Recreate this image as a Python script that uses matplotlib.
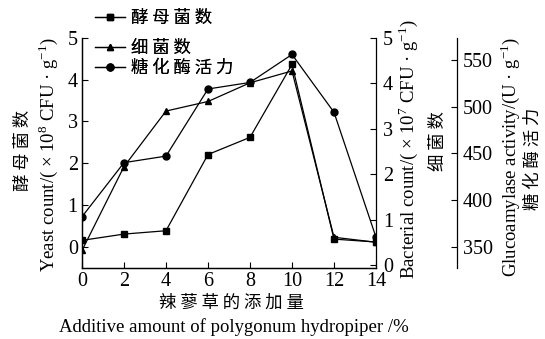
import matplotlib
matplotlib.use("Agg")
import matplotlib.pyplot as plt

plt.rcParams['font.family'] = ['Liberation Serif', 'Noto Sans CJK SC']
plt.rcParams['mathtext.fontset'] = 'custom'
plt.rcParams['mathtext.rm'] = 'Liberation Serif'

x = [0, 2, 4, 6, 8, 10, 12, 14]
yeast = [0.16, 0.31, 0.39, 2.21, 2.62, 4.36, 0.19, 0.12]
bacteria = [0.33, 2.17, 3.39, 3.60, 4.01, 4.27, 0.62, 0.51]
glucoamylase = [382, 440, 447, 519, 526, 556, 494, 360]

labels = ['酵 母 菌 数', '细 菌 数', '糖 化 酶 活 力']
xticks = [0, 2, 4, 6, 8, 10, 12, 14]

fig = plt.figure(figsize=(5.45, 3.39), dpi=100)
ax = fig.add_axes([82/545, 1 - 268/339, 294/545, (268 - 37.7)/339])
ax2 = ax.twinx()
ax3 = ax.twinx()
ax3.spines['right'].set_position(('axes', (457 - 82) / 294))

kw = dict(color='black', lw=0.9, ms=5)
l1, = ax.plot(x, yeast, marker='s', **kw)
l2, = ax2.plot(x, bacteria, marker='^', **kw)
l3, = ax3.plot(x, glucoamylase, marker='o', **kw)

ax.set_xlim(0, 14)
ax.set_ylim(-0.5, 5)
ax2.set_ylim(-0.055, 5)
ax3.set_ylim(327, 574)
ax.set_xticks(xticks)
ax.set_yticks([0, 1, 2, 3, 4, 5])
ax2.set_yticks([0, 1, 2, 3, 4, 5])
ax3.set_yticks([350, 400, 450, 500, 550])

for a in (ax, ax2, ax3):
    a.tick_params(direction='in', labelsize=14.5, length=4, width=0.8)
    for s in a.spines.values():
        s.set_linewidth(0.9)
ax.tick_params(axis='y', pad=3)
ax.tick_params(axis='x', pad=3)
ax2.tick_params(axis='y', pad=5)
ax3.tick_params(axis='y', pad=4)
for a in (ax, ax2):
    a.spines['top'].set_visible(False)
ax3.spines['top'].set_visible(False)
ax3.spines['left'].set_visible(False)
ax3.spines['bottom'].set_visible(False)
ax.spines['right'].set_visible(False)

cn = ['Noto Sans CJK SC', 'DejaVu Sans']
cs = 12.5
es = 13.5
# left labels
fig.text(23/545, 1 - 150/339, '酵 母 菌 数', rotation=90, ha='center', va='center', family=cn, fontsize=cs)
fig.text(48/545, 1 - 155/339, r'Yeast count/( $\times$ 10$^{8}$ CFU · g$^{-1}$)', rotation=90,
         ha='center', va='center', fontsize=es)
# right labels
fig.text(408/545, 1 - 149/339, r'Bacterial count/( $\times$ 10$^{7}$ CFU · g$^{-1}$)', rotation=90,
         ha='center', va='center', fontsize=es)
fig.text(438/545, 1 - 141/339, '细 菌 数', rotation=90, ha='center', va='center', family=cn, fontsize=cs)
fig.text(510/545, 1 - 157/339, r'Glucoamylase activity/(U · g$^{-1}$)', rotation=90,
         ha='center', va='center', fontsize=es)
fig.text(533/545, 1 - 159/339, '糖 化 酶 活 力', rotation=90, ha='center', va='center', family=cn, fontsize=cs)
# x labels
fig.text(231/545, 1 - 303/339, '辣 蓼 草 的 添 加 量', ha='center', va='center', family=cn, fontsize=cs)
fig.text(234/545, 1 - 327/339, 'Additive amount of polygonum hydropiper /%', ha='center', va='center', fontsize=es)

ys = [18, 48, 68]
for h, lab, yy in zip([l1, l2, l3], labels, ys):
    lg = fig.legend([h], [lab], loc='center left', bbox_to_anchor=(95/545, 1 - yy/339),
                    frameon=False, prop={'family': cn, 'size': cs}, handlelength=1.75,
                    handletextpad=0.3, borderaxespad=0, borderpad=0)
    fig.add_artist(lg)

fig.savefig('out.png', dpi=100)
